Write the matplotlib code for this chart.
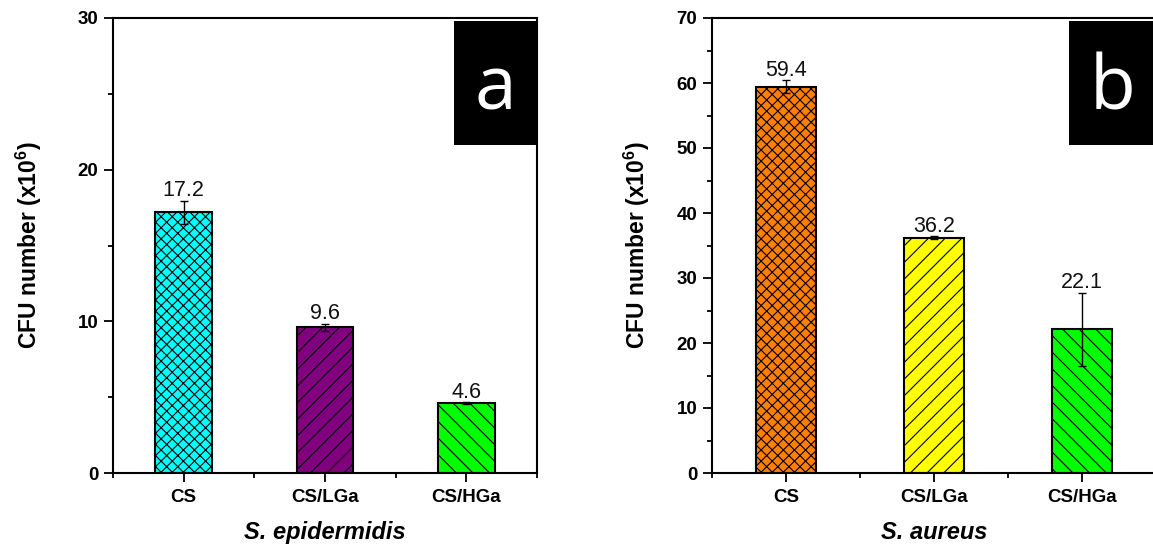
import matplotlib
matplotlib.use("Agg")
import matplotlib.pyplot as plt
from matplotlib.patches import Rectangle
from matplotlib.ticker import MultipleLocator, FixedLocator

plt.rcParams['font.family'] = ['Liberation Sans', 'DejaVu Sans']
plt.rcParams['mathtext.default'] = 'regular'
plt.rcParams['hatch.linewidth'] = 0.8
plt.rcParams['hatch.color'] = 'black'

categories = ["CS", "CS/LGa", "CS/HGa"]

# Panel a: S. epidermidis
epi_values = [17.2, 9.6, 4.6]
epi_errors = [0.75, 0.25, 0.05]
epi_labels = ["17.2", "9.6", "4.6"]
epi_colors = ["#00FFFF", "#800080", "#00FF00"]

# Panel b: S. aureus
aur_values = [59.4, 36.2, 22.1]
aur_errors = [1.0, 0.2, 5.6]
aur_labels = ["59.4", "36.2", "22.1"]
aur_colors = ["#FF8000", "#FFFF00", "#00FF00"]

hatches = ["xxx", "//", "\\\\"]

W, H = 1153, 549
fig = plt.figure(figsize=(W / 100, H / 100), dpi=100)

def make_axes(left_px, right_px):
    top_px, bottom_px = 18, 473
    return fig.add_axes([left_px / W, (H - bottom_px) / H,
                         (right_px - left_px) / W, (bottom_px - top_px) / H])

ax_a = make_axes(113, 537)
ax_b = make_axes(712, 1156)

def draw(ax, values, errors, labels, colors, ymax, major, minor, xlabel,
         letter, ylabelpad):
    x = list(range(1, len(values) + 1))
    bars = ax.bar(x, values, width=0.4, color=colors, edgecolor='black',
                  linewidth=1.5, zorder=2)
    for b, h in zip(bars, hatches):
        b.set_hatch(h)
    ax.errorbar(x, values, yerr=errors, fmt='none', ecolor='black',
                elinewidth=1.0, capsize=3, capthick=1.0, zorder=3)
    for xi, v, e, t in zip(x, values, errors, labels):
        ax.annotate(t, (xi, v + e), xytext=(0, 3.5), textcoords='offset points',
                    ha='center', va='baseline', fontsize=15.5, color='#111111')
    ax.set_xlim(0.5, 3.5)
    ax.set_ylim(0, ymax)
    ax.yaxis.set_major_locator(MultipleLocator(major))
    ax.yaxis.set_minor_locator(MultipleLocator(minor))
    ax.set_xticks(x)
    ax.set_xticklabels(categories)
    ax.xaxis.set_minor_locator(FixedLocator([0.5, 1.5, 2.5, 3.5]))
    ax.tick_params(axis='both', which='major', direction='out', length=6.5,
                   width=1.3, labelsize=13.5, pad=4)
    ax.tick_params(axis='both', which='minor', direction='out', length=3.5,
                   width=1.3)
    ax.tick_params(axis='x', which='major', pad=5)
    for lab in ax.get_xticklabels() + ax.get_yticklabels():
        lab.set_fontweight('bold')
    for s in ax.spines.values():
        s.set_linewidth(1.5)
    ax.set_ylabel(r'CFU number (x10$^{6}$)', fontsize=16.5, fontweight='bold',
                  labelpad=ylabelpad)
    ax.set_xlabel(xlabel, fontsize=17, fontweight='bold', style='italic',
                  labelpad=11)
    ax.add_patch(Rectangle((0.805, 0.721), 0.195, 0.272, transform=ax.transAxes,
                           facecolor='black', edgecolor='none', zorder=4,
                           clip_on=False))
    ax.text(0.9025, 0.841, letter, transform=ax.transAxes, ha='center',
            va='center', color='white', fontsize=54, family='Open Sans',
            zorder=5)

draw(ax_a, epi_values, epi_errors, epi_labels, epi_colors, 30, 10, 5,
     'S. epidermidis', 'a', 24)
draw(ax_b, aur_values, aur_errors, aur_labels, aur_colors, 70, 10, 5,
     'S. aureus', 'b', 17.5)

fig.savefig('out.png', dpi=100)
